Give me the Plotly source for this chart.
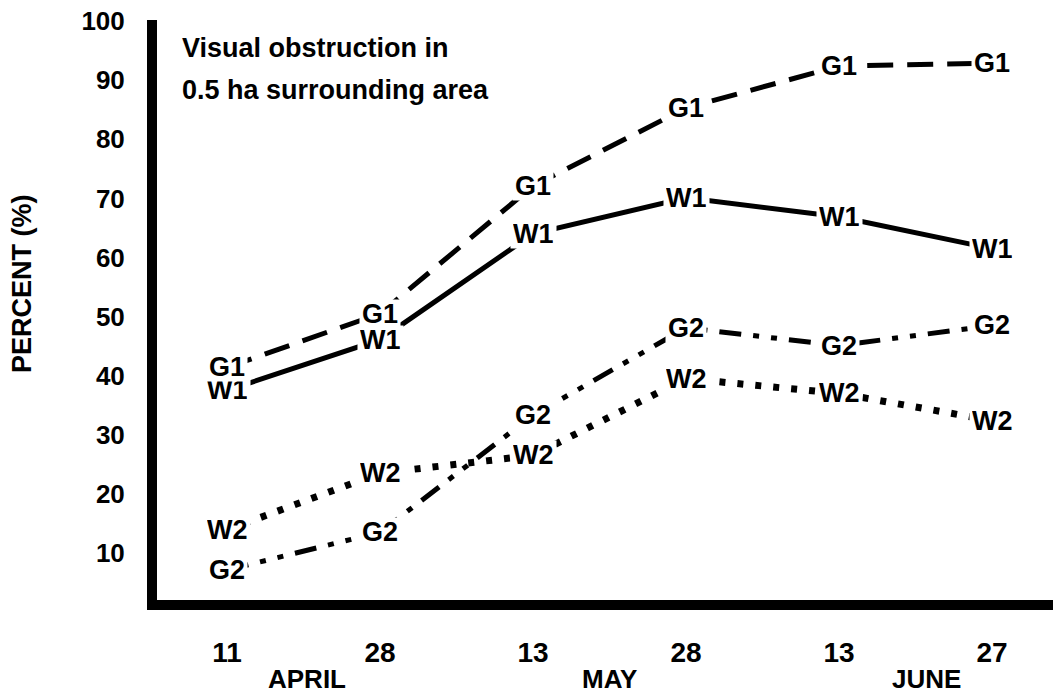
import plotly.graph_objects as go

days = ["11", "28", "13", "28", "13", "27"]
months = ["APRIL", "MAY", "JUNE"]
month_pos = [0.52, 2.50, 4.57]
x_idx = [0, 1, 2, 3, 4, 5]

G1 = [41.4, 50.5, 72.1, 85.3, 92.4, 92.9]
W1 = [37.5, 46.1, 64.0, 70.1, 66.9, 61.5]
G2 = [7.1, 13.5, 33.3, 48.1, 45.1, 48.5]
W2 = [13.9, 23.5, 26.5, 39.5, 37.0, 32.4]

yticks = [10, 20, 30, 40, 50, 60, 70, 80, 90, 100]

FONT = "Liberation Sans"

# page is drawn with an 8px body margin; layout numbers below are figure px
W, H = 1053, 688
L, T, B = 149, 12, 96          # plot area: x 149..1053, y 12..592
PH = H - T - B                 # 580

series = [
    ("W1", W1, "solid"),
    ("G1", G1, "26px,14px"),
    ("W2", W2, "6px,12px"),
    ("G2", G2, "22px,12px,6px,12px,6px,12px"),
]

fig = go.Figure()
for name, vals, dash in series:
    fig.add_trace(go.Scatter(
        x=x_idx, y=vals, mode="lines", name=name,
        line=dict(color="black", width=7 if name == "W2" else 5, dash=dash),
        showlegend=False, hoverinfo="skip"))

annotations = []
for name, vals, dash in series:
    for xi, v in zip(x_idx, vals):
        annotations.append(dict(
            x=xi, y=v, xref="x", yref="y", text="<b>%s</b>" % name,
            showarrow=False, bgcolor="white", borderpad=2, height=24,
            font=dict(family=FONT, size=27, color="black"),
            xanchor="center", yanchor="middle"))

for m, p in zip(months, month_pos):
    annotations.append(dict(
        x=p, y=(H - B - 671) / PH, xref="x", yref="paper", text="<b>%s</b>" % m,
        showarrow=False, font=dict(family=FONT, size=26, color="black"),
        xanchor="center", yanchor="middle"))

annotations.append(dict(
    x=(172 - L) / (W - L), y=(H - B - 40) / PH, xref="paper", yref="paper",
    text="<b>Visual obstruction in</b>", showarrow=False,
    font=dict(family=FONT, size=27, color="black"),
    xanchor="left", yanchor="middle"))
annotations.append(dict(
    x=(172 - L) / (W - L), y=(H - B - 82) / PH, xref="paper", yref="paper",
    text="<b>0.5 ha surrounding area</b>", showarrow=False,
    font=dict(family=FONT, size=27, color="black"),
    xanchor="left", yanchor="middle"))

annotations.append(dict(
    x=(14 - L) / (W - L), y=(H - B - 276) / PH, xref="paper", yref="paper",
    text="<b>PERCENT (%)</b>", showarrow=False, textangle=-90,
    font=dict(family=FONT, size=27, color="black"),
    xanchor="center", yanchor="middle"))

fig.update_layout(
    width=W, height=H,
    margin=dict(l=L, r=0, t=T, b=B, autoexpand=False),
    paper_bgcolor="white", plot_bgcolor="white",
    annotations=annotations,
    xaxis=dict(
        range=[-0.4575, 5.451], tickvals=x_idx, ticktext=["<b>%s</b>" % d for d in days],
        showgrid=False, zeroline=False, showline=True, linecolor="black",
        linewidth=10, ticks="", ticklabelstandoff=18, automargin=False,
        tickfont=dict(family=FONT, size=28, color="black")),
    yaxis=dict(
        range=[2.03, 100.2], tickvals=yticks, ticktext=["<b>%d</b>" % t for t in yticks],
        showgrid=False, zeroline=False, showline=True, linecolor="black",
        linewidth=10, ticks="", ticklabelstandoff=17, automargin=False,
        ticklabeloverflow="allow",
        tickfont=dict(family=FONT, size=26, color="black")),
)

fig.write_html("out.html")
